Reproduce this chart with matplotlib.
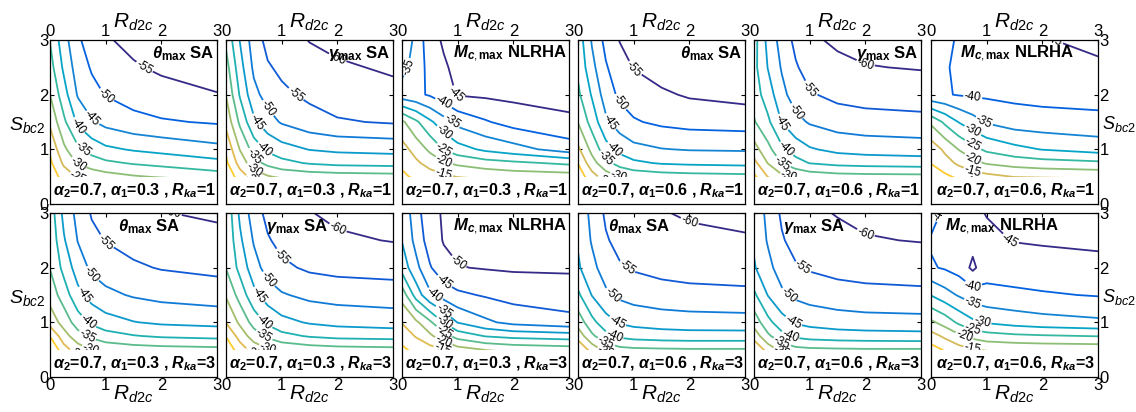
import numpy as np
import matplotlib
matplotlib.use('Agg')
import matplotlib.pyplot as plt
from matplotlib.colors import LinearSegmentedColormap, Normalize

plt.rcParams['font.family'] = ['Liberation Sans', 'DejaVu Sans']
plt.rcParams['mathtext.fontset'] = 'custom'
plt.rcParams['mathtext.rm'] = 'Liberation Sans'
plt.rcParams['mathtext.it'] = 'Liberation Sans:italic'
plt.rcParams['mathtext.bf'] = 'Liberation Sans:bold'
plt.rcParams['mathtext.bfit'] = 'Liberation Sans:bold:italic'

# grid of R_d2c (columns) and S_bc2 (rows)
r_d2c = [0, 0.25, 0.5, 0.75, 1, 1.5, 2, 3]
s_bc2 = [0, 0.25, 0.5, 0.75, 1, 1.5, 2, 2.5, 3]

# values, rows = s_bc2, cols = r_d2c
theta_a03_rka1 = [
    [-11, -12, -12.5, -13, -13, -13.5, -13.5, -13.5],
    [-14, -17, -19.5, -20.5, -21.5, -22, -22.5, -23],
    [-17, -22, -25.5, -27, -28, -29.5, -30.5, -32.5],
    [-19, -26, -30.5, -32.5, -34, -35.5, -36.5, -38.5],
    [-21, -29, -34, -37, -39, -40.5, -41.5, -43.5],
    [-26, -34, -41, -44.5, -46.5, -48.5, -49.5, -50.5],
    [-30, -38, -45.5, -48.5, -50.2, -52, -53.2, -54.8],
    [-33, -41, -47.5, -50.5, -52.3, -54.5, -55.8, -57],
    [-35.2, -43, -49.3, -52.2, -54.5, -56.3, -57.3, -58.5]]
gamma_a03_rka1 = [
    [-11, -12, -12.5, -13, -13, -13.5, -13.5, -13.5],
    [-13, -17.5, -20.2, -21.5, -22.5, -23.5, -24, -24],
    [-16, -22.5, -27, -29.5, -31, -32, -32.5, -33],
    [-19, -27, -33, -36.5, -38.5, -40.5, -41.5, -42],
    [-21, -30.2, -37, -41, -43, -45.2, -46, -46.5],
    [-26.5, -36, -44, -48, -50.5, -53, -54.5, -55.5],
    [-30.2, -40.5, -48.5, -52, -54, -56, -57.5, -59],
    [-33, -43, -51, -54.5, -56, -58, -59.5, -60.5],
    [-36, -45.2, -52.5, -56.5, -57.5, -60.2, -61, -62]]
mc_a03_rka1 = [
    [-4, -5.2, -6, -7, -7, -8, -8, -8],
    [-6, -7, -8, -9, -9.5, -10.3, -10.5, -10.5],
    [-9, -11, -12.5, -14, -15.2, -16, -17, -17.5],
    [-11, -14, -17, -19.5, -21, -23, -24, -26],
    [-13, -17, -21, -25.2, -28, -31, -33, -37.5],
    [-19, -24, -29, -33, -36.5, -39.5, -42, -44],
    [-38, -39, -40.5, -43, -45.3, -45.8, -46.2, -46.8],
    [-33, -37.5, -41.5, -44.5, -46, -47, -47.5, -48],
    [-32, -36, -43.5, -45.5, -46.5, -47.5, -48.5, -49.5]]
theta_a06_rka1 = [
    [-11, -12, -12.5, -13, -13, -13.5, -13.5, -13.5],
    [-13, -17.5, -20.5, -22, -23, -23.5, -24, -24],
    [-17, -23, -27.5, -30.2, -31.5, -32.5, -33, -33.5],
    [-20.2, -28, -33.5, -37, -39, -40.5, -41, -41.5],
    [-24, -31.5, -38, -41.5, -43.5, -44.8, -45.3, -45.5],
    [-30.2, -37, -44, -47.5, -49.5, -51, -51.8, -52.3],
    [-34, -40.5, -47.5, -51, -52.5, -54.3, -55.5, -56.5],
    [-36, -43.5, -49.5, -53, -55.2, -57, -58, -58.8],
    [-37, -45.5, -51.5, -55.2, -56.5, -58, -58.8, -59.5]]
gamma_a06_rka1 = [
    [-11, -12, -12.5, -13, -13, -13.5, -13.5, -13.5],
    [-13, -18, -21, -22.5, -23, -23.5, -24, -24],
    [-19, -25.2, -29, -31, -32, -33, -33.3, -33.5],
    [-23.5, -30.2, -35.2, -38, -40.2, -41.5, -42, -42.5],
    [-28, -33.5, -39, -42.5, -44.5, -46.3, -47, -47.5],
    [-34.5, -39, -45.2, -48.5, -50.5, -52.3, -53, -53.5],
    [-37.5, -42.5, -48.5, -52.5, -54.5, -56.3, -57, -57.5],
    [-38.5, -45.2, -50.5, -54.5, -57, -59, -59.8, -60.3],
    [-38, -46.5, -52, -56.3, -59.3, -60.7, -61.5, -62]]
mc_a06_rka1 = [
    [-2, -3, -4, -4.8, -5.2, -5.6, -6, -6],
    [-4, -5.2, -6, -7, -7.5, -8, -8, -8],
    [-7, -9, -11, -12.5, -13.5, -15.2, -15.5, -16],
    [-10.2, -13, -16, -18.5, -20.5, -22, -23, -24],
    [-12, -16, -20.2, -23.5, -26, -28.5, -30.2, -32],
    [-21, -26, -30.2, -33, -35.5, -37.5, -38, -38.5],
    [-39.2, -39.6, -40.3, -40.6, -40.8, -41.2, -41.6, -42],
    [-39, -39.5, -41, -41.5, -42, -42.5, -43, -44],
    [-38, -39, -40.5, -41.5, -42.5, -43.5, -44.6, -46.5]]
theta_a03_rka3 = [
    [-11, -12, -12.5, -13, -13, -13.5, -13.5, -13.5],
    [-12, -17.5, -20.5, -22, -23, -23.5, -24, -24],
    [-15.2, -23, -27.5, -30.2, -31.5, -32.5, -33, -33.5],
    [-20.2, -28, -33, -36, -38, -39.7, -40.7, -41.5],
    [-27, -32, -37.5, -41, -43, -44.8, -45.8, -46.5],
    [-32, -37.5, -43.5, -47, -48.8, -50.5, -51.5, -52.5],
    [-35.2, -41.5, -47.5, -51, -52.5, -54.3, -55.3, -56.2],
    [-36, -44.5, -50.2, -53.5, -55.2, -56.7, -57.7, -58.5],
    [-37, -46.5, -51.5, -55.5, -57, -58.5, -59.8, -60.8]]
gamma_a03_rka3 = [
    [-11, -12, -12.5, -13, -13, -13.5, -13.5, -13.5],
    [-12.5, -17.5, -20.5, -22, -23, -23.5, -24, -24],
    [-16.5, -22.5, -27, -29.5, -31, -32.3, -33, -33.5],
    [-20.2, -27, -32.5, -36, -38.5, -40.5, -41.5, -42],
    [-25.2, -31, -37, -41, -43.5, -45.5, -46.5, -47.3],
    [-30.5, -37, -43.5, -47.5, -49.5, -51.3, -52, -52.5],
    [-35.2, -41.5, -48, -52, -54, -55.8, -56.5, -57],
    [-35.5, -44, -50.5, -54.5, -56.5, -58.3, -59.3, -60.2],
    [-36, -46, -52.5, -56.5, -58.3, -59.8, -61, -61.5]]
mc_a03_rka3 = [
    [-3, -4, -5.2, -6, -6, -7, -7, -7],
    [-6, -8, -10.2, -11.5, -12.5, -13, -13.5, -14],
    [-9, -11.5, -13, -15.2, -18, -20.2, -21.5, -22.5],
    [-12, -15.4, -19, -23, -27, -30.3, -31.5, -32.5],
    [-15.3, -19, -24, -30.3, -35.2, -39, -41.5, -43.5],
    [-22, -32, -39, -42, -44, -45.5, -46.8, -47.5],
    [-32, -38.5, -44.5, -48.5, -49.8, -50.3, -50.6, -50.7],
    [-35.2, -41.5, -47.5, -50.3, -51, -51.3, -51.5, -51.5],
    [-36, -43, -48.5, -50.5, -51, -51.5, -52, -52]]
theta_a06_rka3 = [
    [-11, -12, -12.5, -13, -13, -13.5, -13.5, -13.5],
    [-14, -19, -22.5, -24, -24.5, -24.5, -24.5, -24.5],
    [-20.5, -27, -31.5, -33.5, -34, -34.3, -34.5, -34.5],
    [-27, -34, -38.5, -41, -42, -42.7, -43, -43],
    [-32, -38.5, -43, -45.5, -46.5, -47.3, -47.7, -48],
    [-39, -45.2, -49, -51, -52, -53, -53.5, -53.8],
    [-44.3, -48.5, -52.5, -54.5, -55.5, -56.5, -57, -57.5],
    [-45.5, -50.5, -54.5, -56.5, -57.7, -58.7, -59.2, -59.6],
    [-46, -51.5, -55.8, -58, -59, -59.8, -60.4, -61]]
gamma_a06_rka3 = [
    [-11, -12, -12.5, -13, -13, -13.5, -13.5, -13.5],
    [-14, -19, -22.5, -24, -24.5, -24.5, -24.5, -24.5],
    [-20.5, -27, -31.5, -33.5, -34, -34.3, -34.5, -34.5],
    [-27, -34, -38.5, -41, -42, -42.7, -43, -43.3],
    [-32, -38.5, -43, -45.5, -46.5, -47.5, -48, -48.3],
    [-39, -45.2, -49, -51, -52, -53, -53.5, -53.8],
    [-44.5, -48.5, -52.5, -54.5, -55.5, -56.5, -57, -57.5],
    [-45.8, -50.5, -54.5, -56.8, -58, -59, -59.7, -60.2],
    [-46, -51.5, -55.8, -58.2, -59.3, -60.2, -61, -61.5]]
mc_a06_rka3 = [
    [-2, -3, -4, -4.8, -5.2, -6, -6, -6],
    [-5.2, -6.5, -8, -9, -9.5, -10.2, -10.2, -10.2],
    [-8, -10.5, -13, -14.5, -15.5, -16, -16.3, -16.5],
    [-13, -16, -19, -21.5, -23, -24, -24.5, -25.2],
    [-19, -22, -26, -29, -30.5, -32, -33, -34],
    [-30.2, -33, -35.5, -37.5, -38.5, -39, -39.5, -40.3],
    [-39.5, -40.5, -42, -46, -42, -42.5, -43, -43.5],
    [-40.5, -42, -43, -43.5, -44, -45.2, -45.5, -46],
    [-38, -41, -43, -44, -45.2, -46, -46.5, -47]]

tables = [[theta_a03_rka1, gamma_a03_rka1, mc_a03_rka1,
           theta_a06_rka1, gamma_a06_rka1, mc_a06_rka1],
          [theta_a03_rka3, gamma_a03_rka3, mc_a03_rka3,
           theta_a06_rka3, gamma_a06_rka3, mc_a06_rka3]]
kinds = ['theta', 'gamma', 'mc', 'theta', 'gamma', 'mc']
alpha1 = ['0.3', '0.3', '0.3', '0.6', '0.6', '0.6']
rka = ['1', '3']
levels = np.arange(-60, 0, 5)

# parula-like colormap
parula = LinearSegmentedColormap.from_list('parula', [
    (0.0, (0.2081, 0.1663, 0.5292)), (0.063, (0.1959, 0.2645, 0.7279)),
    (0.127, (0.0117, 0.3875, 0.8820)), (0.254, (0.0793, 0.5200, 0.8312)),
    (0.381, (0.0228, 0.6535, 0.7768)), (0.508, (0.2178, 0.7250, 0.6193)),
    (0.635, (0.5709, 0.7485, 0.4494)), (0.762, (0.8507, 0.7299, 0.3360)),
    (0.841, (0.9938, 0.7455, 0.2403)), (0.889, (0.9880, 0.8066, 0.1794)),
    (1.0, (0.9763, 0.9831, 0.0538))])

titles = {'theta': r'$\mathbfit{\theta}_{\mathbf{max}}$ SA',
          'gamma': r'$\mathbfit{\gamma}_{\mathbf{max}}$ SA',
          'mc': r'$\mathbfit{M}_{\mathbfit{c},\mathbf{max}}$ NLRHA'}
# title placement (x in axes fraction, alignment)
title_pos = [[(0.985, 'right')] * 5 + [(0.517, 'center')],
             [(0.593, 'center'), (0.428, 'center'), (0.985, 'right'),
              (0.365, 'center'), (0.363, 'center'), (0.423, 'center')]]

W, H = 1136, 412
fig = plt.figure(figsize=(W / 100, H / 100), dpi=100)
lefts = [50, 226, 402, 578, 754, 931]
tops = [40, 213]
aw, ah = 167, 164

X, Y = np.meshgrid(r_d2c, s_bc2)
for r in range(2):
    for c in range(6):
        Z = np.array(tables[r][c], dtype=float)
        ax = fig.add_axes([lefts[c] / W, (H - tops[r] - ah) / H, aw / W, ah / H])
        used = levels[(levels > Z.min()) & (levels < Z.max())]
        norm = Normalize(vmin=used.min(), vmax=used.max())
        cs = ax.contour(X, Y, Z, levels=used, cmap=parula, norm=norm,
                        linewidths=1.3)
        ax.clabel(cs, fmt='%d', fontsize=8.5, inline=True, inline_spacing=1,
                  colors='k')
        ax.set_xlim(0, 3)
        ax.set_ylim(0, 3)
        ax.set_xticks([0, 1, 2, 3])
        ax.set_yticks([0, 1, 2, 3])
        for s in ax.spines.values():
            s.set_linewidth(0.9)
            s.set_zorder(20)
        ax.tick_params(direction='in', length=3, width=0.8, top=True, right=True,
                       labelsize=12, pad=1,
                       labeltop=(r == 0), labelbottom=(r == 1),
                       labelleft=(c == 0), labelright=(c == 5))

        tx, tha = title_pos[r][c]
        ax.text(tx, 0.975, titles[kinds[c]], transform=ax.transAxes, ha=tha,
                va='top', fontsize=12, fontweight='bold', zorder=10)
        sep = ', ' if c == 5 else ' , '
        note = (r'$\mathbfit{\alpha}_\mathbf{2}$=0.7, $\mathbfit{\alpha}_\mathbf{1}$='
                + alpha1[c] + sep + r'$\mathbfit{R}_{\mathbfit{ka}}$=' + rka[r])
        ax.text(0.505, 0.027, note, transform=ax.transAxes, ha='center',
                va='bottom', fontsize=11.5, fontweight='bold', zorder=10,
                bbox=dict(facecolor='white', edgecolor='none', pad=3.2))

        if r == 0:
            ax.text(0.5, 1.075, r'$\mathit{R_{d2c}}$', transform=ax.transAxes,
                    ha='center', va='baseline', fontsize=15)
        else:
            ax.text(0.5, -0.14, r'$\mathit{R_{d2c}}$', transform=ax.transAxes,
                    ha='center', va='baseline', fontsize=15)
        if c == 0:
            ax.text(-0.245, 0.45, r'$\mathit{S_{bc2}}$', transform=ax.transAxes,
                    ha='left', va='baseline', fontsize=14)
        if c == 5:
            ax.text(1.022, 0.46, r'$\mathit{S_{bc2}}$', transform=ax.transAxes,
                    ha='left', va='baseline', fontsize=13)

fig.savefig('out.png', dpi=100)
